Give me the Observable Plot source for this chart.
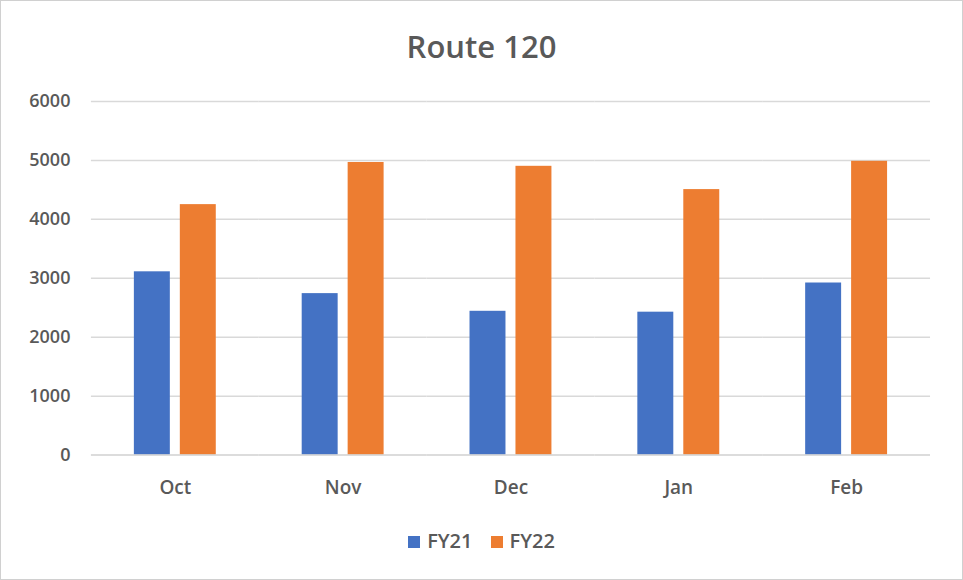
<!DOCTYPE html>
<html>
<head>
<meta charset="utf-8">
<script src="https://cdn.jsdelivr.net/npm/d3@7"></script>
<script src="https://cdn.jsdelivr.net/npm/@observablehq/plot@0.6"></script>
<style>
  body { margin: 0; background: #fff; }
  #wrap { position: relative; width: 961px; height: 578px; border: 1px solid #d0d0d0; background: #fff; font-family: "Open Sans", "Liberation Sans", sans-serif; }
  #title { height: 80px; line-height: 90px; text-align: center; font-size: 31px; font-weight: 600; color: #595959; }
  #chart { position: absolute; left: -1px; top: 79px; }
  #legend { position: absolute; top: 526px; left: 0; width: 961px; text-align: center; font-size: 20px; font-weight: 600; color: #595959; }
  #legend span.item { display: inline-block; margin: 0 9px; }
  #legend span.sw { display: inline-block; width: 12px; height: 12px; margin-right: 7px; vertical-align: 0px; }
</style>
</head>
<body>
<div id="wrap">
  <div id="title"></div>
  <div id="chart"></div>
  <div id="legend"></div>
</div>
<script>
const title = "Route 120";
const months = ["Oct", "Nov", "Dec", "Jan", "Feb"];
const series = ["FY21", "FY22"];
const fy21 = [3110, 2740, 2440, 2425, 2920];
const fy22 = [4250, 4965, 4900, 4505, 4985];
const yTicks = [0, 1000, 2000, 3000, 4000, 5000, 6000];
const colors = ["#4472C4", "#ED7D31"];

const data = [];
months.forEach((m, i) => {
  data.push({month: m, series: series[0], value: fy21[i]});
  data.push({month: m, series: series[1], value: fy22[i]});
});

document.getElementById("title").textContent = title;

// half of the gap between month groups, so grid lines join across facets
const halfGap = 42;

const plot = Plot.plot({
  width: 963,
  height: 432,
  marginLeft: 91,
  marginRight: 32,
  marginTop: 21,
  marginBottom: 57,
  style: {fontFamily: "'Open Sans', 'Liberation Sans', sans-serif", fontSize: "18px", color: "#595959", background: "transparent", overflow: "visible"},
  fx: {domain: months, paddingInner: 0.5, paddingOuter: 0.25, label: null},
  x: {domain: series, paddingInner: 0.21, paddingOuter: 0, axis: null},
  y: {domain: [0, 6000], ticks: yTicks, label: null},
  color: {domain: series, range: colors},
  marks: [
    Plot.ruleY(yTicks.filter(d => d > 0), {stroke: "#d9d9d9", strokeWidth: 1.5, insetLeft: -halfGap, insetRight: -halfGap}),
    Plot.barY(data, {fx: "month", x: "series", y: "value", fill: "series"}),
    Plot.ruleY([0], {stroke: "#d0d0d0", strokeWidth: 1.5, insetLeft: -halfGap, insetRight: -halfGap}),
    Plot.axisY({ticks: yTicks, tickFormat: d3.format("d"), tickSize: 0, tickPadding: 21 + halfGap, label: null, fontWeight: 600, fill: "#595959"}),
    Plot.axisFx({anchor: "bottom", tickSize: 0, tickPadding: 25, label: null, fontWeight: 600, fill: "#595959", fontSize: 19})
  ]
});
document.getElementById("chart").appendChild(plot);

const legend = document.getElementById("legend");
series.forEach((s, i) => {
  const item = document.createElement("span");
  item.className = "item";
  const sw = document.createElement("span");
  sw.className = "sw";
  sw.style.background = colors[i];
  item.appendChild(sw);
  item.appendChild(document.createTextNode(s));
  legend.appendChild(item);
});
</script>
</body>
</html>
